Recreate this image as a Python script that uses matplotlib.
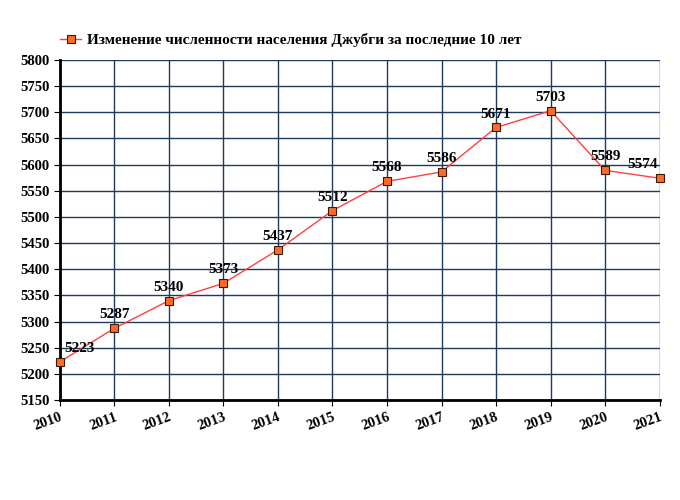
import matplotlib
matplotlib.use('Agg')
import matplotlib.pyplot as plt

years = [2010, 2011, 2012, 2013, 2014, 2015, 2016, 2017, 2018, 2019, 2020, 2021]
population = [5223, 5287, 5340, 5373, 5437, 5512, 5568, 5586, 5671, 5703, 5589, 5574]
title = 'Изменение численности населения Джубги за последние 10 лет'

plt.rcParams['font.family'] = 'Liberation Serif'
plt.rcParams['font.weight'] = 'bold'

fig = plt.figure(figsize=(6.8, 5), dpi=100)
ax = fig.add_axes([0.088, 0.2, 0.882, 0.68])

ax.plot(years, population, color='#ff4040', lw=1, marker='s', ms=6,
        markerfacecolor='#ff6a2a', markeredgecolor='#3a1a00', markeredgewidth=0.8,
        label=title, clip_on=False, zorder=3)
for i, (x, y) in enumerate(zip(years, population)):
    dx = 0
    if i == 0:
        dx = 14
    elif i == len(years) - 1:
        dx = -12
    ax.annotate(str(y), (x, y), xytext=(dx, 5), textcoords='offset points',
                ha='center', va='bottom', fontsize=11, fontweight='bold')

ax.set_xlim(2010, 2021)
ax.set_ylim(5150, 5800)
ax.set_xticks(years)
ax.set_yticks(range(5150, 5801, 50))
ax.grid(True, color='#1f3a60', lw=1)
ax.set_axisbelow(True)
for s in ['top', 'right']:
    ax.spines[s].set_visible(False)
ax.spines['left'].set_linewidth(2)
ax.spines['bottom'].set_linewidth(2)
ax.tick_params(labelsize=10.5, length=4)
plt.setp(ax.get_xticklabels(), rotation=20, ha='right', rotation_mode='anchor')

ax.legend(loc='lower left', bbox_to_anchor=(-0.01, 1.02), frameon=False,
          prop={'family': 'Liberation Serif', 'weight': 'bold', 'size': 11},
          handlelength=1.4, handletextpad=0.4, borderaxespad=0)

fig.savefig('out.png', dpi=100)
